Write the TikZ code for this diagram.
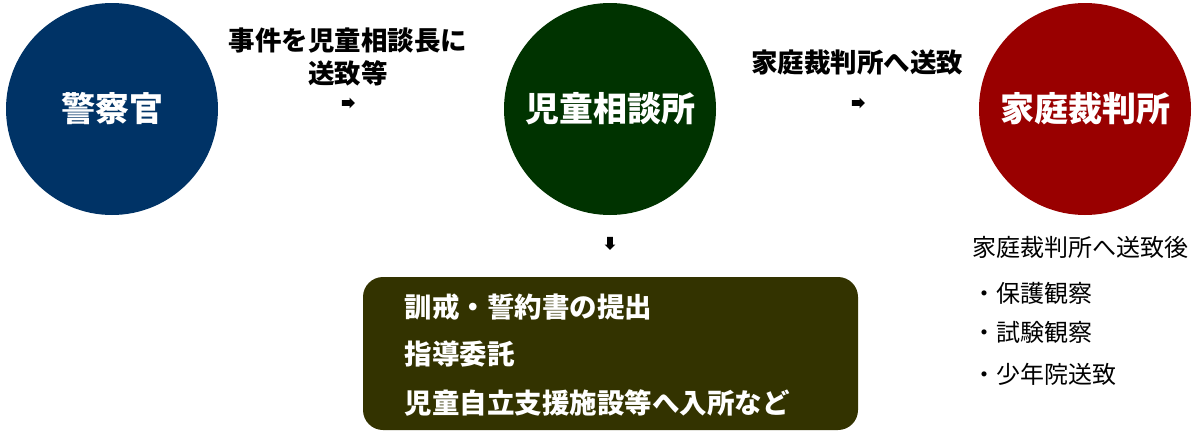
\documentclass[tikz,border=0pt]{standalone}
\usepackage{fontspec}
\setmainfont{Noto Sans CJK JP}
\usetikzlibrary{shapes.arrows}
\definecolor{policeblue}{RGB}{0,51,102}
\definecolor{centergreen}{RGB}{0,51,0}
\definecolor{courtred}{RGB}{153,0,0}
\definecolor{boxolive}{RGB}{51,51,0}
\tikzset{
	organ/.style={circle, minimum size=212pt, inner sep=0pt, text=white,
		font=\bfseries\fontsize{34}{38}\selectfont},
	steplabel/.style={align=center, font=\bfseries\fontsize{26.5}{33}\selectfont},
	smallarrow/.style={single arrow, fill=black, inner sep=2.6pt,
		minimum height=13pt, single arrow head extend=2.6pt},
	boxline/.style={anchor=west, text=white, font=\bfseries\fontsize{27.5}{32}\selectfont},
	afterline/.style={anchor=west, font=\fontsize{24}{28}\selectfont}
}
\begin{document}
\begin{tikzpicture}[x=1pt,y=-1pt]
\useasboundingbox (0,0) rectangle (1200,434);

% the three offices
\node[organ, fill=policeblue] (police) at (112,109) {警察官};
\node[organ, fill=centergreen] (center) at (610,109) {児童相談所};
\node[organ, fill=courtred] (court) at (1085,109) {家庭裁判所};

% steps between them
\node[steplabel] (toCenter) at (348,57) {事件を児童相談長に\\送致等};
\node[smallarrow] (arrA) at (347,103) {};
\node[steplabel] (toCourt) at (857,62) {家庭裁判所へ送致};
\node[smallarrow] (arrB) at (857,103) {};
\node[smallarrow, shape border rotate=270] (arrC) at (610,242) {};

% measures of the centre
\fill[boxolive, rounded corners=20pt] (363,277) rectangle (858,430);
\node[boxline] (mOne) at (401,307) {訓戒・誓約書の提出};
\node[boxline] (mTwo) at (401,354) {指導委託};
\node[boxline] (mThree) at (401,403) {児童自立支援施設等へ入所など};

% after the court
\node[afterline] (afterHead) at (969,247) {家庭裁判所へ送致後};
\node[afterline] (afterA) at (969,293) {・保護観察};
\node[afterline] (afterB) at (969,332) {・試験観察};
\node[afterline] (afterC) at (969,374) {・少年院送致};
\end{tikzpicture}
\end{document}
